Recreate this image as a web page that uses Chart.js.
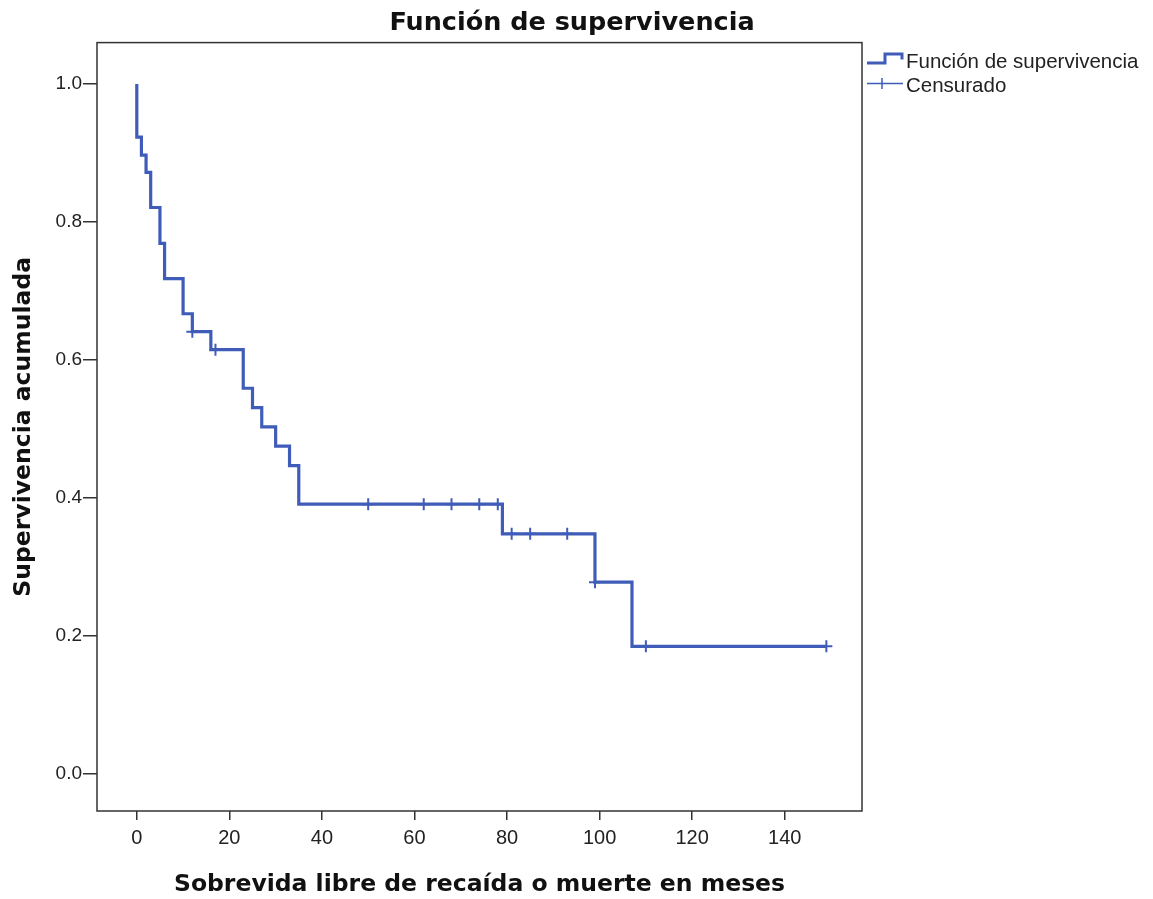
<!DOCTYPE html>
<html>
<head>
<meta charset="utf-8">
<title>Función de supervivencia</title>
<script src="https://cdn.jsdelivr.net/npm/chart.js@4/dist/chart.umd.min.js"></script>
<style>
  html, body { margin: 0; padding: 0; background: #fff; }
  #wrap { width: 1153px; height: 899px; position: relative; }
</style>
</head>
<body>
<div id="wrap"><canvas id="km"></canvas></div>
<script>
// Kaplan-Meier steps: time (months) and survival after the drop
const stepTimes = [0, 0, 1, 2, 3, 5, 6, 10, 12, 16, 23, 25, 27, 30, 33, 35, 79, 99, 107, 149];
const stepSurv  = [1.0, 0.923, 0.897, 0.872, 0.821, 0.769, 0.718, 0.667, 0.641, 0.615, 0.559, 0.531, 0.503, 0.475, 0.447, 0.391, 0.348, 0.278, 0.185, 0.185];

// censored cases
const censTimes = [12, 17, 50, 62, 68, 74, 78, 81, 85, 93, 99, 110, 149];
const censSurv  = [0.641, 0.615, 0.391, 0.391, 0.391, 0.391, 0.391, 0.348, 0.348, 0.348, 0.278, 0.185, 0.185];

const xTicks = [0, 20, 40, 60, 80, 100, 120, 140];
const yTicks = [0.0, 0.2, 0.4, 0.6, 0.8, 1.0];

const blue = '#3f5cb8';
const ink = '#222';

const frame = {
    id: 'frame',
    beforeDatasetsDraw(chart) {
        const a = chart.chartArea;
        const ctx = chart.ctx;
        ctx.save();
        ctx.strokeStyle = '#333';
        ctx.lineWidth = 1.5;
        ctx.strokeRect(a.left, a.top, a.right - a.left, a.bottom - a.top);
        ctx.restore();
    }
};

// legend to the right of the plot, drawn by hand so the step icon looks right
const sideLegend = {
    id: 'sideLegend',
    afterDraw(chart) {
        const ctx = chart.ctx;
        const x0 = chart.chartArea.right + 5;
        ctx.save();
        ctx.strokeStyle = blue;
        ctx.lineJoin = 'miter';
        ctx.lineWidth = 3;
        ctx.beginPath();
        ctx.moveTo(x0, 63);
        ctx.lineTo(x0 + 18, 63);
        ctx.lineTo(x0 + 18, 54);
        ctx.lineTo(x0 + 35, 54);
        ctx.lineTo(x0 + 35, 59.5);
        ctx.stroke();

        ctx.lineWidth = 1.5;
        ctx.beginPath();
        ctx.moveTo(x0, 83.5);
        ctx.lineTo(x0 + 36, 83.5);
        ctx.moveTo(x0 + 15, 78);
        ctx.lineTo(x0 + 15, 89);
        ctx.stroke();

        ctx.fillStyle = ink;
        ctx.font = '20.5px "Liberation Sans", Arial, sans-serif';
        ctx.textBaseline = 'middle';
        ctx.textAlign = 'left';
        ctx.fillText('Función de supervivencia', x0 + 39, 62);
        ctx.fillText('Censurado', x0 + 39, 86);
        ctx.restore();
    }
};

document.addEventListener('DOMContentLoaded', function() {
    const ctx = document.getElementById('km');

    new Chart(ctx, {
        type: 'line',
        data: {
            datasets: [
                {
                    label: 'Función de supervivencia',
                    data: stepTimes.map((t, i) => ({ x: t, y: stepSurv[i] })),
                    borderColor: blue,
                    borderWidth: 3.2,
                    stepped: 'before',
                    pointRadius: 0,
                    fill: false,
                    borderCapStyle: 'butt',
                    borderJoinStyle: 'miter',
                    xAxisID: 'x',
                    yAxisID: 'y'
                },
                {
                    label: 'Censurado',
                    data: censTimes.map((t, i) => ({ x: t, y: censSurv[i] })),
                    showLine: false,
                    pointStyle: 'cross',
                    pointRadius: 6,
                    pointBorderWidth: 2,
                    pointBorderColor: blue,
                    pointBackgroundColor: blue,
                    borderColor: blue,
                    xAxisID: 'x',
                    yAxisID: 'y'
                }
            ]
        },
        options: {
            responsive: true,
            maintainAspectRatio: false,
            animation: false,
            layout: {
                padding: { left: 0, right: 9, top: 0, bottom: 0 }
            },
            plugins: {
                legend: { display: false },
                tooltip: { enabled: false },
                title: {
                    display: true,
                    text: 'Función de supervivencia',
                    color: '#111',
                    font: { family: '"DejaVu Sans", sans-serif', size: 25.5, weight: 'bold' },
                    padding: { top: 8, bottom: 4 }
                }
            },
            scales: {
                x: {
                    type: 'linear',
                    position: 'bottom',
                    min: -8.6,
                    max: 156.7,
                    afterBuildTicks: s => { s.ticks = xTicks.map(v => ({ value: v })); },
                    afterFit: s => { s.height = 88; },
                    border: { display: false },
                    grid: {
                        drawOnChartArea: false,
                        drawTicks: true,
                        tickLength: 9,
                        color: '#333',
                        lineWidth: 1.5
                    },
                    ticks: {
                        padding: 6,
                        maxRotation: 0,
                        color: ink,
                        font: { family: '"Liberation Sans", Arial, sans-serif', size: 20 }
                    },
                    title: {
                        display: true,
                        text: 'Sobrevida libre de recaída o muerte en meses',
                        color: '#111',
                        font: { family: '"DejaVu Sans", sans-serif', size: 23.5, weight: 'bold' },
                        padding: { top: 0, bottom: 0 }
                    }
                },
                y: {
                    type: 'linear',
                    position: 'left',
                    min: -0.0537,
                    max: 1.06,
                    afterBuildTicks: s => { s.ticks = yTicks.map(v => ({ value: v })); },
                    afterFit: s => { s.width = 97; },
                    border: { display: false },
                    grid: {
                        drawOnChartArea: false,
                        drawTicks: true,
                        tickLength: 14,
                        color: '#333',
                        lineWidth: 1.5
                    },
                    ticks: {
                        padding: 1,
                        color: ink,
                        font: { family: '"Liberation Sans", Arial, sans-serif', size: 19 },
                        callback: v => Number(v).toFixed(1)
                    },
                    title: {
                        display: true,
                        text: 'Supervivencia acumulada',
                        color: '#111',
                        font: { family: '"DejaVu Sans", sans-serif', size: 23.5, weight: 'bold' },
                        padding: { top: 10, bottom: 0 }
                    }
                },
                legendSpace: {
                    type: 'linear',
                    position: 'right',
                    afterFit: s => { s.width = 282; },
                    border: { display: false },
                    grid: { display: false },
                    ticks: { display: false }
                }
            }
        },
        plugins: [frame, sideLegend]
    });
});
</script>
</body>
</html>
